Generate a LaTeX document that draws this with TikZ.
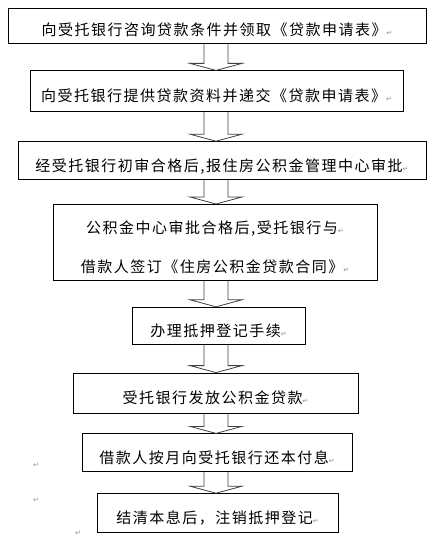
\documentclass[tikz,border=0pt]{standalone}
\usepackage{fontspec}
\newfontfamily\cjk{Noto Sans CJK SC}[LetterSpace=10]
\newfontfamily\dejavu{DejaVu Sans}
\usetikzlibrary{positioning, calc}

\newcommand{\retmark}{{\dejavu\fontsize{7}{7}\selectfont\textcolor{black!45}{↵}}}
\newcommand{\blockdown}[2]{%
  \draw[hollow] let \p1=(#1.south), \p2=(#2.north) in
    (204pt,\y1) -- (204pt,\y2+7pt) -- (190pt,\y2+7pt) -- (216pt,\y2)
    -- (242pt,\y2+7pt) -- (228pt,\y2+7pt) -- (228pt,\y1);}

\begin{document}
\begin{tikzpicture}[x=1pt, y=-1pt,
        box/.style={rectangle, draw, line width=0.8pt, inner sep=0pt,
            font=\cjk\fontsize{15}{18}\selectfont, text height=21pt, text depth=0pt},
        hollow/.style={draw=black!75, line width=0.8pt}
    ]
        \useasboundingbox (0,0) rectangle (438,537);

        % Define nodes
        \node (b1) [box, minimum width=418pt, minimum height=35pt] at (217,25.5)
            {向受托银行咨询贷款条件并领取《贷款申请表》\retmark};
        \node (b2) [box, minimum width=373pt, minimum height=41pt, below=27pt of b1, xshift=-0.5pt]
            {向受托银行提供贷款资料并递交《贷款申请表》\retmark};
        \node (b3) [box, minimum width=408pt, minimum height=38pt, below=29pt of b2, xshift=5.5pt]
            {经受托银行初审合格后,报住房公积金管理中心审批\retmark};
        \node (b4) [box, minimum width=324pt, minimum height=76pt, below=24pt of b3, xshift=-7pt,
            align=center, font=\cjk\fontsize{15}{39}\selectfont, text height=61pt]
            {公积金中心审批合格后,受托银行与\retmark\\借款人签订《住房公积金贷款合同》\retmark};
        \node (b5) [box, minimum width=173pt, minimum height=37pt, below=26pt of b4, xshift=3.5pt]
            {办理抵押登记手续\retmark};
        \node (b6) [box, minimum width=285pt, minimum height=40pt, below=28pt of b5, xshift=-3pt]
            {受托银行发放公积金贷款\retmark};
        \node (b7) [box, minimum width=270pt, minimum height=38pt, below=20pt of b6, xshift=1.5pt]
            {借款人按月向受托银行还本付息\retmark};
        \node (b8) [box, minimum width=241pt, minimum height=39pt, below=21pt of b7, xshift=0.5pt]
            {结清本息后，注销抵押登记\retmark};

        \node (r1) at (36,465) {\retmark};
        \node (r2) at (36,500) {\retmark};
        \node (r3) at (78,533) {\retmark};

        % Draw block arrows
        \blockdown{b1}{b2}
        \blockdown{b2}{b3}
        \blockdown{b3}{b4}
        \blockdown{b4}{b5}
        \blockdown{b5}{b6}
        \blockdown{b6}{b7}
        \blockdown{b7}{b8}
    \end{tikzpicture}
\end{document}
